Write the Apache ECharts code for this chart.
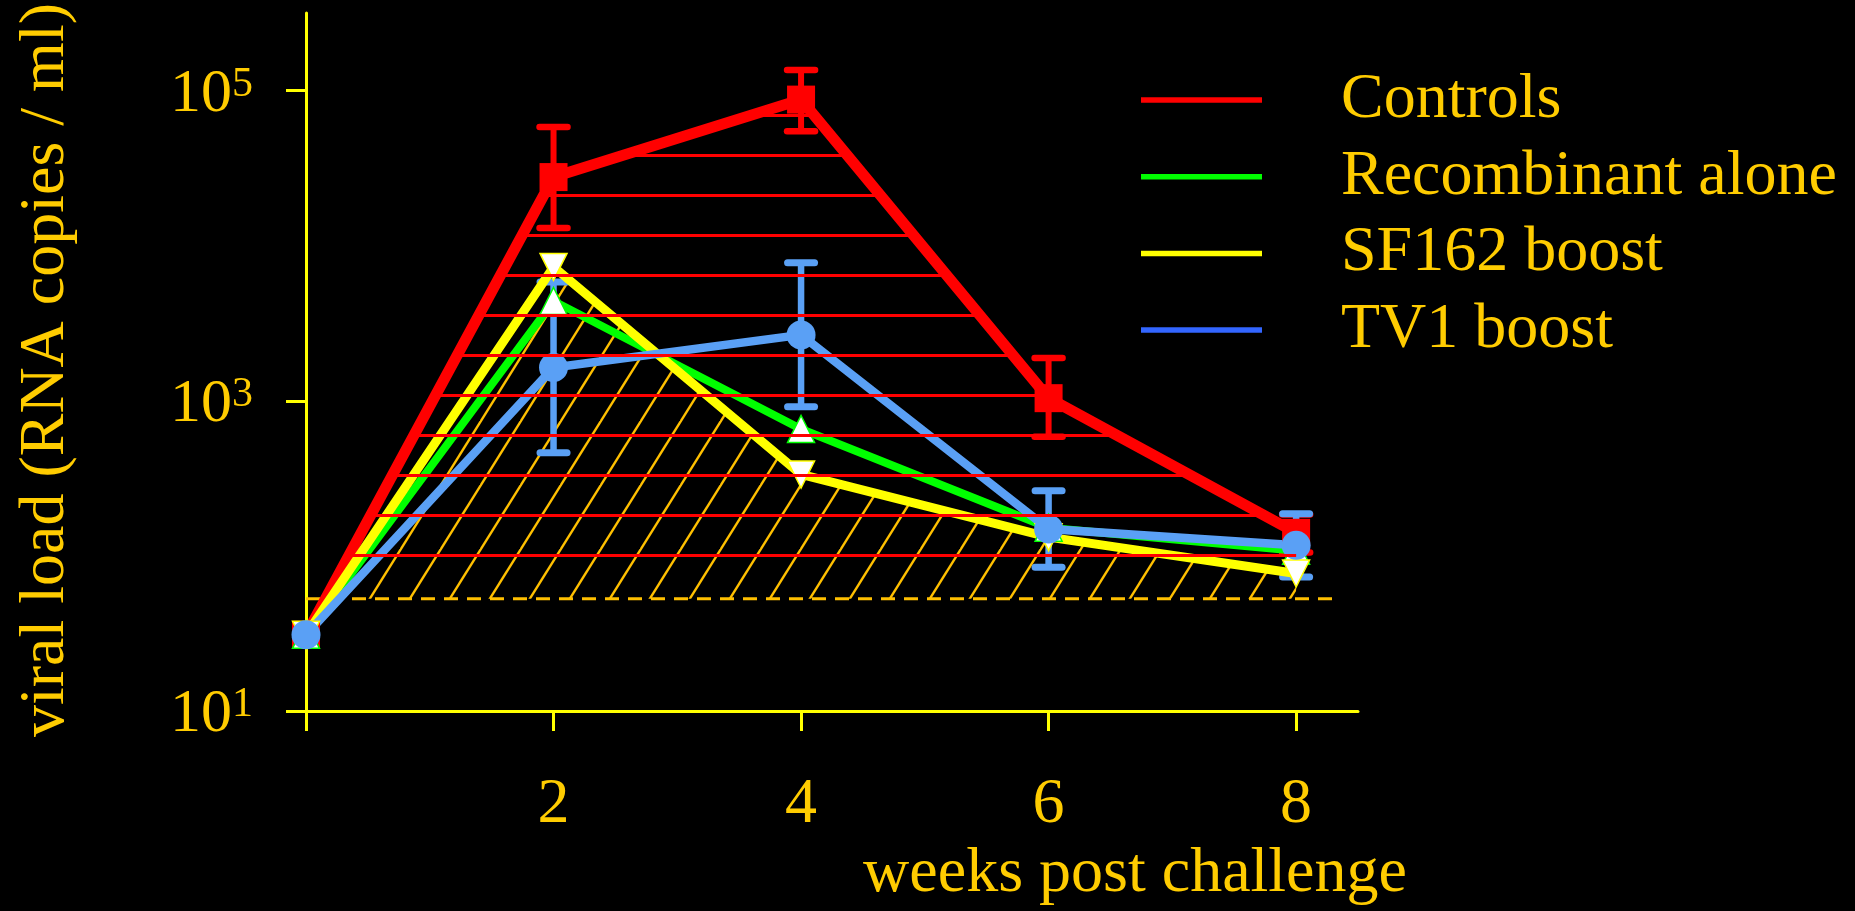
<!DOCTYPE html>
<html>
<head>
<meta charset="utf-8">
<script src="https://cdn.jsdelivr.net/npm/echarts@6/dist/echarts.min.js"></script>
<style>
html, body { margin: 0; padding: 0; background: #000; }
#chart { width: 1855px; height: 911px; }
</style>
</head>
<body>
<div id="chart"></div>
<script>
// ---- data ----
const weeks = [0, 2, 4, 6, 8];
const controls = [31, 27700, 87500, 1040, 141];
const controlsLow = [null, 13000, 54700, 586, 105];
const controlsHigh = [null, 58300, 136000, 1890, 185];
const recombinant = [31, 4400, 658, 152, 108];
const sf162 = [31, 7300, 335, 132, 77];
const tv1 = [31, 1640, 2660, 149, 117];
const tv1Low = [null, 463, 915, 84.5, 73];
const tv1High = [null, 5840, 7760, 263, 187];
const detectionLimit = 53;
const limitWeeks = [0, 8.33];
const xTicks = [0, 2, 4, 6, 8];
const xLabels = [2, 4, 6, 8];
const yTicks = [10, 1000, 100000];
const seriesNames = ['Controls', 'Recombinant alone', 'SF162 boost', 'TV1 boost'];

// ---- styles ----
const FONT = "'Liberation Serif', 'Times New Roman', serif";
const TEXT = '#ffcc00';
const AXIS = '#ffff00';
const RED = '#ff0000', GREEN = '#00ff00', YELLOW = '#ffff00', BLUE = '#5aa0f5', HATCH = '#ffc000';
const redHatchFloor = 70;

function makeHLines() {
  const c = document.createElement('canvas');
  c.width = 40; c.height = 40;
  const g = c.getContext('2d');
  g.fillStyle = RED;
  g.fillRect(0, 34, 40, 3);
  return c;
}
function makeDiag() {
  const c = document.createElement('canvas');
  c.width = 40; c.height = 64;
  const g = c.getContext('2d');
  g.strokeStyle = HATCH;
  g.lineWidth = 2.4;
  for (let k = -1; k <= 2; k++) {
    const x0 = 24 + 40 * k;
    g.beginPath();
    g.moveTo(x0 + 0.625 * 10, -10);
    g.lineTo(x0 - 0.625 * 74, 74);
    g.stroke();
  }
  return c;
}
const redPattern = { image: makeHLines(), repeat: 'repeat' };
const diagPattern = { image: makeDiag(), repeat: 'repeat' };

function clipAbove(poly, yb) {
  const out = [];
  const n = poly.length;
  for (let i = 0; i < n; i++) {
    const cur = poly[i], prev = poly[(i - 1 + n) % n];
    const cin = cur[1] <= yb + 1e-6, pin = prev[1] <= yb + 1e-6;
    const inter = () => {
      const t = (yb - prev[1]) / (cur[1] - prev[1]);
      return [prev[0] + t * (cur[0] - prev[0]), yb];
    };
    if (cin) {
      if (!pin) out.push(inter());
      out.push(cur);
    } else if (pin) {
      out.push(inter());
    }
  }
  return out;
}

function hatchItem(values, floor, fill) {
  return function (params, api) {
    const pts = weeks.map((w, i) => api.coord([w, values[i]]));
    const yb = api.coord([0, floor])[1];
    const poly = pts.concat([[pts[pts.length - 1][0], yb], [pts[0][0], yb]]);
    return {
      type: 'polygon',
      shape: { points: clipAbove(poly, yb) },
      style: { fill: fill, stroke: null }
    };
  };
}

function errItem(color, capHalf, capLW, lw) {
  return function (params, api) {
    const x = api.value(0), lo = api.value(1), hi = api.value(2);
    const p1 = api.coord([x, lo]), p2 = api.coord([x, hi]);
    return {
      type: 'group',
      children: [
        { type: 'line', shape: { x1: p1[0], y1: p1[1], x2: p2[0], y2: p2[1] }, style: { stroke: color, lineWidth: lw } },
        { type: 'line', shape: { x1: p1[0] - capHalf, y1: p1[1], x2: p1[0] + capHalf, y2: p1[1] }, style: { stroke: color, lineWidth: capLW, lineCap: 'round' } },
        { type: 'line', shape: { x1: p2[0] - capHalf, y1: p2[1], x2: p2[0] + capHalf, y2: p2[1] }, style: { stroke: color, lineWidth: capLW, lineCap: 'round' } }
      ]
    };
  };
}

const pairs = (vals) => weeks.map((w, i) => [w, vals[i]]);
const errData = (lo, hi) => weeks.map((w, i) => [w, lo[i], hi[i]]).filter(d => d[1] != null);

const axisLineStyle = { color: AXIS, width: 3 };

const option = {
  backgroundColor: '#000',
  animation: false,
  textStyle: { fontFamily: FONT },
  grid: { left: 306, right: 497, top: 12, bottom: 200, containLabel: false },
  legend: {
    orient: 'vertical',
    left: 1136,
    top: 63,
    icon: 'rect',
    itemWidth: 121,
    itemHeight: 5.5,
    itemGap: 12.7,
    selectedMode: false,
    itemStyle: { borderWidth: 0 },
    textStyle: { color: TEXT, fontSize: 64, fontFamily: FONT, lineHeight: 64, padding: [0, 0, 0, 74] },
    data: [
      { name: seriesNames[0], itemStyle: { color: RED } },
      { name: seriesNames[1], itemStyle: { color: GREEN } },
      { name: seriesNames[2], itemStyle: { color: YELLOW } },
      { name: seriesNames[3], itemStyle: { color: '#3366ff' } }
    ]
  },
  xAxis: {
    type: 'value',
    min: 0,
    max: 8.5,
    axisLine: { show: true, onZero: false, lineStyle: axisLineStyle },
    axisTick: { show: true, customValues: xTicks, length: 20, lineStyle: axisLineStyle },
    axisLabel: { customValues: xLabels, margin: 62, color: TEXT, fontSize: 64, fontFamily: FONT },
    splitLine: { show: false },
    name: 'weeks post challenge',
    nameLocation: 'middle',
    nameGap: 128,
    nameTextStyle: { color: TEXT, fontSize: 64, fontFamily: FONT, padding: [0, 0, 0, 606] }
  },
  yAxis: {
    type: 'log',
    logBase: 10,
    min: 10,
    max: 316227.77,
    axisLine: { show: true, lineStyle: axisLineStyle },
    axisTick: { show: true, customValues: yTicks, length: 20, lineStyle: axisLineStyle },
    axisLabel: {
      customValues: yTicks,
      margin: 53,
      padding: [8, 0, 0, 0],
      formatter: (v) => '{b|10}{s|' + Math.round(Math.log10(v)) + '}',
      rich: {
        b: { fontSize: 62, lineHeight: 62, color: TEXT, fontFamily: FONT },
        s: { fontSize: 42, lineHeight: 38, verticalAlign: 'top', color: TEXT, fontFamily: FONT }
      }
    },
    splitLine: { show: false },
    name: 'viral load (RNA copies / ml)',
    nameLocation: 'middle',
    nameRotate: 90,
    nameGap: 228,
    nameTextStyle: { color: TEXT, fontSize: 64, fontFamily: FONT, padding: [0, 16, 0, 0] }
  },
  series: [
    {
      type: 'custom', name: 'sf162-hatch', z: 1, silent: true,
      renderItem: hatchItem(sf162, detectionLimit, diagPattern),
      data: [[0, detectionLimit]]
    },
    {
      type: 'line', name: 'limit', z: 1, silent: true, symbol: 'none',
      data: limitWeeks.map(w => [w, detectionLimit]),
      lineStyle: { color: HATCH, width: 3, type: [14, 9] }
    },
    {
      type: 'line', name: seriesNames[0], z: 2, data: pairs(controls),
      symbol: 'rect', symbolSize: 28,
      itemStyle: { color: RED },
      lineStyle: { color: RED, width: 11, join: 'miter' }
    },
    {
      type: 'custom', name: 'controls-err', z: 2, silent: true,
      renderItem: errItem(RED, 14, 6.5, 6),
      encode: { x: 0, y: [1, 2] },
      data: errData(controlsLow, controlsHigh)
    },
    {
      type: 'line', name: seriesNames[1], z: 2, data: pairs(recombinant),
      symbol: 'triangle', symbolSize: 27,
      itemStyle: { color: '#ffffff', borderColor: GREEN, borderWidth: 1.5 },
      lineStyle: { color: GREEN, width: 8, join: 'miter' }
    },
    {
      type: 'line', name: seriesNames[2], z: 2, data: pairs(sf162),
      symbol: 'triangle', symbolRotate: 180, symbolSize: 27,
      itemStyle: { color: '#ffffff', borderColor: YELLOW, borderWidth: 1.5 },
      lineStyle: { color: YELLOW, width: 9, join: 'miter' }
    },
    {
      type: 'custom', name: 'tv1-err', z: 2, silent: true,
      renderItem: errItem(BLUE, 13.5, 7, 6.5),
      encode: { x: 0, y: [1, 2] },
      data: errData(tv1Low, tv1High)
    },
    {
      type: 'line', name: seriesNames[3], z: 2, data: pairs(tv1),
      symbol: 'circle', symbolSize: 29,
      itemStyle: { color: BLUE },
      lineStyle: { color: BLUE, width: 8.5, join: 'miter' }
    },
    {
      type: 'custom', name: 'controls-hatch', z: 3, silent: true,
      renderItem: hatchItem(controls, redHatchFloor, redPattern),
      data: [[0, redHatchFloor]]
    }
  ]
};

const chart = echarts.init(document.getElementById('chart'), null, { renderer: 'canvas' });
chart.setOption(option);
</script>
</body>
</html>
